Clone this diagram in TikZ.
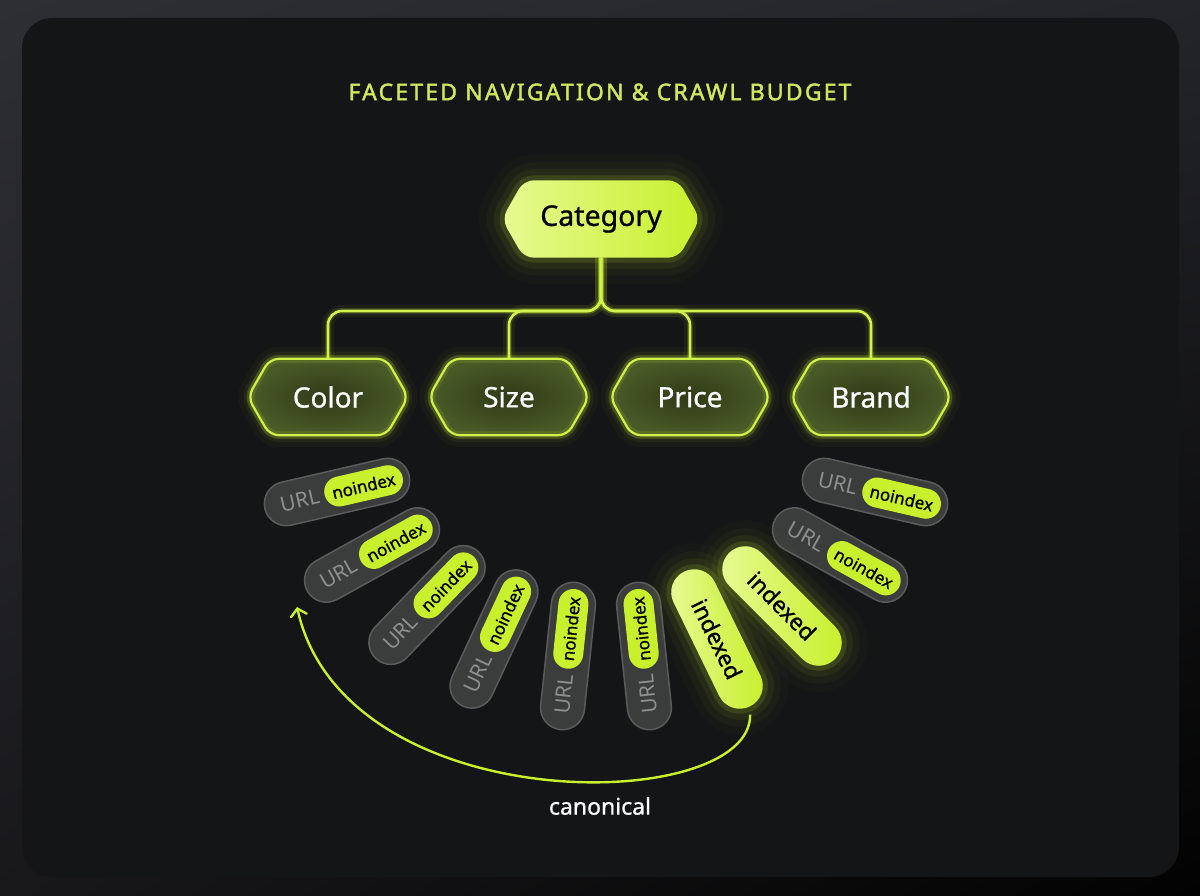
\documentclass[tikz,border=0pt]{standalone}
\usepackage{fontspec}
\setmainfont{Noto Sans}
\newfontfamily\medfont{Noto Sans}[FakeBold=0.9]
\newfontfamily\titlefont{Noto Sans}[FakeBold=1.8,LetterSpace=9.5]
\usetikzlibrary{shapes.misc,arrows.meta,calc,shadings}
\pgfdeclarelayer{back}
\pgfdeclarelayer{conn}
\pgfdeclarelayer{hex}
\pgfsetlayers{back,conn,hex,main}

\definecolor{lime}{HTML}{C8F02C}
\definecolor{limeline}{HTML}{D2F24E}
\definecolor{limelight}{HTML}{E6FA92}
\definecolor{titlecol}{HTML}{CFE85E}
\definecolor{cardbg}{HTML}{141517}
\definecolor{pillgray}{HTML}{3B3C3C}
\definecolor{pillborder}{HTML}{5A5B5A}
\definecolor{urlgray}{HTML}{8E8F8F}
\definecolor{facetin}{HTML}{2F3A17}
\definecolor{facetout}{HTML}{4A5A27}
\definecolor{bgUL}{HTML}{2E2F35}
\definecolor{bgUR}{HTML}{242529}
\definecolor{bgLL}{HTML}{18181B}
\definecolor{bgLR}{HTML}{020202}

\newcommand\hexof[2]{([xshift=#2]#1.north west) -- ([xshift=-#2]#1.north east) -- (#1.east) -- ([xshift=-#2]#1.south east) -- ([xshift=#2]#1.south west) -- (#1.west) -- cycle}

\tikzset{
  bigglow/.style={
    preaction={draw=#1,line width=52pt,draw opacity=0.02,line join=round},
    preaction={draw=#1,line width=36pt,draw opacity=0.035,line join=round},
    preaction={draw=#1,line width=22pt,draw opacity=0.06,line join=round},
    preaction={draw=#1,line width=10pt,draw opacity=0.13,line join=round}},
  midglow/.style={
    preaction={draw=#1,line width=24pt,draw opacity=0.03,line join=round},
    preaction={draw=#1,line width=14pt,draw opacity=0.06,line join=round},
    preaction={draw=#1,line width=7pt,draw opacity=0.12,line join=round}},
  connector/.style={draw=limeline,line width=2.6pt,rounded corners=14pt,
    preaction={draw=lime,line width=12pt,draw opacity=0.06},
    preaction={draw=lime,line width=6pt,draw opacity=0.14}},
  facetlabel/.style={minimum width=160pt,minimum height=76pt,inner sep=0pt,
    text=white,font=\medfont\fontsize{28}{32}\selectfont},
  catlabel/.style={minimum width=198pt,minimum height=77pt,inner sep=0pt,
    text=black,font=\medfont\fontsize{28.5}{32}\selectfont},
  facetshape/.style={inner color=facetin,outer color=facetout,draw=limeline,
    line width=2.2pt,rounded corners=9pt,midglow=lime,
    postaction={draw=lime,line width=8pt,draw opacity=0.13}},
  catshape/.style={left color=limelight,right color=lime,rounded corners=10pt,bigglow=lime},
  urlpill/.style={rounded rectangle,minimum width=148pt,minimum height=44pt,inner sep=0pt,
    fill=pillgray,draw=pillborder,line width=1.5pt},
  noidx/.style={rounded rectangle,minimum width=80pt,minimum height=30pt,inner sep=0pt,
    fill=lime,text=black,font=\medfont\fontsize{17}{18}\selectfont},
  urltext/.style={text=urlgray,inner sep=0pt,font=\fontsize{21}{23}\selectfont},
  idxpill/.style={rounded rectangle,minimum width=150pt,minimum height=46pt,inner sep=0pt,
    left color=limelight,right color=lime,bigglow=lime,text=black,
    font=\medfont\fontsize{23}{25}\selectfont},
  canon/.style={draw=lime,line width=2.4pt,
    -{Straight Barb[length=7pt,width=16pt,line cap=round]}},
}

\begin{document}
\begin{tikzpicture}[x=1pt,y=-1pt]
\useasboundingbox (0,0) rectangle (1200,896);
\begin{pgfonlayer}{back}
  \shade[upper left=bgUL,upper right=bgUR,lower left=bgLL,lower right=bgLR]
    (0,0) rectangle (1200,896);
  \fill[cardbg,rounded corners=30pt] (22,18) rectangle (1179,877);
\end{pgfonlayer}

% title
\node[text=titlecol,font=\titlefont\fontsize{23}{26}\selectfont] (title) at (600,92) {FACETED NAVIGATION \& CRAWL BUDGET};

% nodes
\node[catlabel] (cat) at (601,219) {Category};
\node[facetlabel] (color) at (328,397) {Color};
\node[facetlabel] (size) at (509,397) {Size};
\node[facetlabel] (price) at (690,397) {Price};
\node[facetlabel] (brand) at (871,397) {Brand};

\begin{pgfonlayer}{hex}
  \path[catshape] \hexof{cat}{22pt};
  \foreach \n in {color,size,price,brand}{
    \path[facetshape] \hexof{\n}{22pt};
  }
\end{pgfonlayer}

\coordinate (bus) at (0,311);
\begin{pgfonlayer}{conn}
  \foreach \n in {color,size,price,brand}{
    \draw[connector] (cat.south) -- (cat.south |- bus) -- (\n.north |- bus) -- (\n.north);
  }
\end{pgfonlayer}

% gray URL pills
\foreach \i/\x/\y/\a in {1/337/492/13,2/372/555/29,3/427/605/46,4/494/639/65,5/568/656/84,
                         6/644/656/96,9/840/555/-29,10/875/492/-13}{
  \node[urlpill,rotate=\a] (p\i) at (\x,\y) {};
  \node[noidx,rotate=\a] (n\i) at ($(p\i.center)!0.365!(p\i.east)$) {noindex};
  \node[urltext,rotate=\a] (u\i) at ($(p\i.center)!0.51!(p\i.west)$) {URL};
}

% indexed pills
\node[idxpill,rotate=-64] (p7) at (717,639) {indexed};
\node[idxpill,rotate=-45] (p8) at (782,606) {indexed};

% canonical arrow
\coordinate (cend) at (297,607);
\draw[canon,shorten <=8pt] (p7.east) .. controls (752,815) and (345,822) .. (cend);
\node[text=white,font=\medfont\fontsize{23}{25}\selectfont] (canlbl) at (600,806) {canonical};
\end{tikzpicture}
\end{document}
